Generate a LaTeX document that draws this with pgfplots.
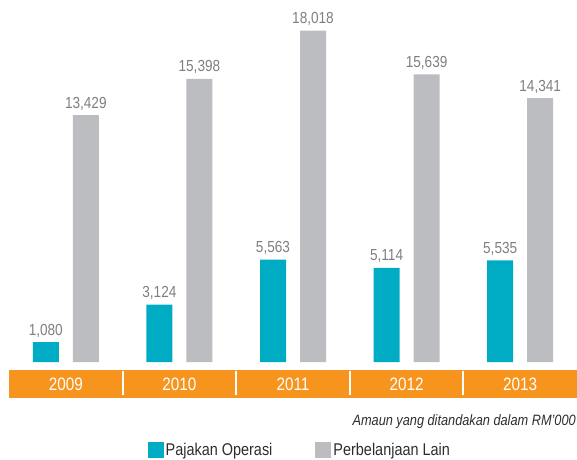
\documentclass[border=0pt]{standalone}
\usepackage{fontspec}
\setmainfont{Liberation Sans}[FakeStretch=0.85]
\usepackage{pgfplots}
\pgfplotsset{compat=1.18}
\definecolor{tealbar}{RGB}{0,172,196}
\definecolor{graybar}{RGB}{188,189,192}
\definecolor{band}{RGB}{247,148,29}
\definecolor{labgray}{RGB}{125,127,130}
\definecolor{txt}{RGB}{45,45,45}
\begin{document}
\begin{tikzpicture}
\begin{axis}[name=ax, scale only axis, width=568pt, height=398pt,
  xmin=-0.5, xmax=4.5, ymin=-1957, ymax=19674,
  axis line style={draw=none}, major tick length=0pt,
  ytick=\empty, xtick={0,1,2,3,4},
  xticklabels={2009,2010,2011,2012,2013},
  xticklabel style={white, font=\fontsize{18}{20}\selectfont, anchor=center, yshift=14pt},
  axis on top, clip=false,
  ybar, bar width=26pt,
  /pgf/number format/1000 sep={,},
  /pgf/number format/assume math mode=true,
  nodes near coords,
  nodes near coords style={labgray, font=\fontsize{16}{18}\selectfont, anchor=base, inner sep=0pt, yshift=7pt},
  legend style={at={(rel axis cs:0.512,0)}, anchor=north, yshift=-43pt, draw=none, fill=none, inner sep=0pt,
    font=\fontsize{17}{20}\selectfont, text=txt, legend columns=2,
    /tikz/every even column/.append style={column sep=41pt}},
  legend image code/.code={\fill[#1] (0pt,-8pt) rectangle (16pt,8pt);},
]
\fill[band] (axis cs:-0.5,-435) rectangle (axis cs:4.5,-1957);
\pgfplotsinvokeforeach{0.5,1.5,2.5,3.5}{
  \draw[white, line width=2pt] (axis cs:#1,-480) -- (axis cs:#1,-1790);
}
\addplot[fill=tealbar, draw=none, bar shift=-20pt] coordinates {(0,1080) (1,3124) (2,5563) (3,5114) (4,5535)};
\addlegendentry{Pajakan Operasi}
\addplot[fill=graybar, draw=none, bar shift=20pt] coordinates {(0,13429) (1,15398) (2,18018) (3,15639) (4,14341)};
\addlegendentry{Perbelanjaan Lain}
\node[anchor=north east, inner sep=0pt, text=txt, font=\itshape\fontsize{15}{17}\selectfont, xshift=-1pt, yshift=-16pt] at (rel axis cs:1,0) {Amaun yang ditandakan dalam RM’000};
\end{axis}
\path (ax.south west) ++(-9pt,-61pt) rectangle (ax.north east);
\end{tikzpicture}
\end{document}
